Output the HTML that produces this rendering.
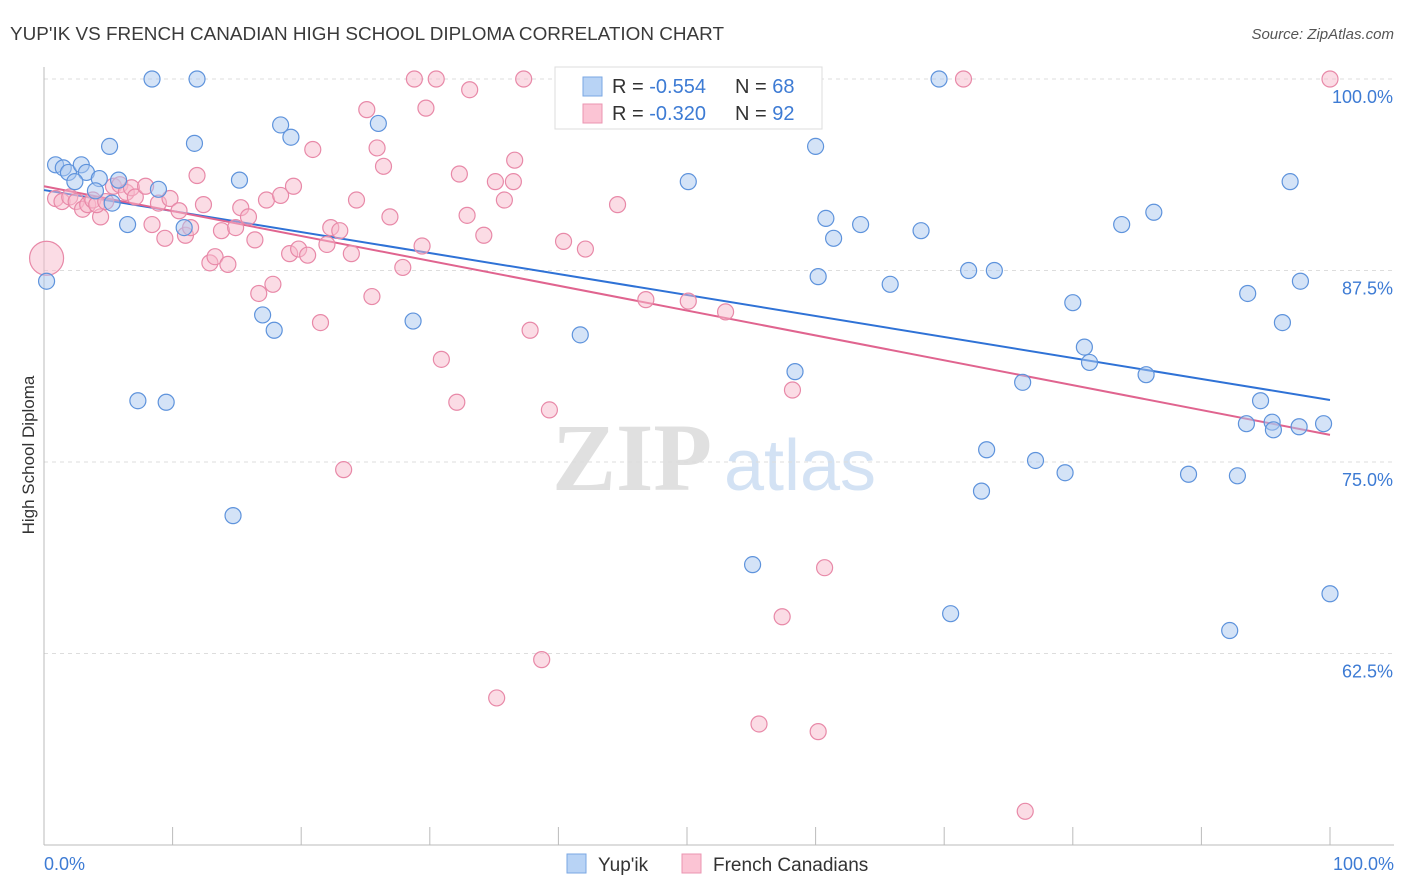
<!DOCTYPE html>
<html><head><meta charset="utf-8"><style>
body{margin:0;background:#fff;width:1406px;height:892px;overflow:hidden;font-family:"Liberation Sans",sans-serif}
svg{display:block}
</style></head><body>
<svg id="chart" width="1406" height="892">
<text x="10" y="40" font-size="18" fill="#3a3a3a" textLength="714" lengthAdjust="spacingAndGlyphs">YUP'IK VS FRENCH CANADIAN HIGH SCHOOL DIPLOMA CORRELATION CHART</text>
<text x="1394" y="39" font-size="15" fill="#555" font-style="italic" text-anchor="end">Source: ZipAtlas.com</text>
<text transform="translate(34,455) rotate(-90)" font-size="17" fill="#333" text-anchor="middle">High School Diploma</text>
<g>
<text x="632" y="490" font-size="96" fill="#e0e0e0" font-weight="bold" font-family="Liberation Serif,serif" text-anchor="middle">ZIP</text>
<text x="800" y="490" font-size="72" fill="#d3e2f4" text-anchor="middle">atlas</text>
</g>
<g id="grid"></g><g id="axes"></g><g id="lines"></g><g id="pts"></g>
<g>
<rect x="555" y="67" width="267" height="62" fill="#fff" stroke="#ddd"/>
<rect x="583" y="77" width="19" height="19" fill="#b8d3f5" stroke="#7aa7e3"/>
<rect x="583" y="104" width="19" height="19" fill="#fbc4d4" stroke="#eb94b1"/>
<text x="612" y="93" font-size="20" fill="#333">R = <tspan fill="#3d7bd4">-0.554</tspan></text>
<text x="735" y="93" font-size="20" fill="#333">N = <tspan fill="#3d7bd4">68</tspan></text>
<text x="612" y="120" font-size="20" fill="#333">R = <tspan fill="#3d7bd4">-0.320</tspan></text>
<text x="735" y="120" font-size="20" fill="#333">N = <tspan fill="#3d7bd4">92</tspan></text>
</g>
<g>
<rect x="567" y="854" width="19" height="19" fill="#b8d3f5" stroke="#7aa7e3"/>
<text x="598" y="871" font-size="19" fill="#333">Yup'ik</text>
<rect x="682" y="854" width="19" height="19" fill="#fbc4d4" stroke="#eb94b1"/>
<text x="713" y="871" font-size="19" fill="#333">French Canadians</text>
</g>
<text x="44" y="870" font-size="18" fill="#3d7bd4">0.0%</text>
<text x="1394" y="870" font-size="18" fill="#3d7bd4" text-anchor="end">100.0%</text>
</svg>
<script>
const yTicks=[100,87.5,75,62.5];
const yTickLabels=["100.0%","87.5%","75.0%","62.5%"];
const blueX=[0.9,1.5,1.9,2.9,3.3,2.4,4.3,5.8,4.0,5.1,5.3,6.5,7.3,8.4,9.5,8.9,10.9,11.7,11.9,14.7,15.2,17.0,17.9,18.4,19.2,26.0,28.7,41.7,50.1,55.1,58.4,60.0,60.2,60.8,61.4,63.5,65.8,68.2,69.6,70.5,71.9,72.9,73.3,73.9,76.1,77.1,79.4,80.0,80.9,81.3,83.8,85.7,86.3,89.0,92.2,92.8,93.5,93.6,94.6,95.5,95.6,96.3,96.9,97.6,97.7,99.5,100,0.2];
const blueY=[94.4,94.2,93.9,94.4,93.9,93.3,93.5,93.4,92.7,95.6,91.9,90.5,79.0,100,78.9,92.8,90.3,95.8,100,71.5,93.4,84.6,83.6,97.0,96.2,97.1,84.2,83.3,93.3,68.3,80.9,95.6,87.1,90.9,89.6,90.5,86.6,90.1,100,65.1,87.5,73.1,75.8,87.5,80.2,75.1,74.3,85.4,82.5,81.5,90.5,80.7,91.3,74.2,64.0,74.1,77.5,86.0,79.0,77.6,77.1,84.1,93.3,77.3,86.8,77.5,66.4,86.8];
const pinkX=[0.9,1.4,2.0,2.5,3.0,3.4,3.8,4.4,4.1,4.8,5.4,5.9,6.4,6.8,7.1,7.9,8.4,8.9,9.4,9.8,10.5,11.0,11.4,11.9,12.4,12.9,13.3,13.8,14.3,14.9,15.3,15.9,16.4,16.7,17.3,17.8,18.4,19.1,19.4,19.8,20.5,20.9,21.5,22.0,22.3,23.0,23.3,23.9,24.3,25.1,25.5,25.9,26.4,26.9,27.9,28.8,29.4,29.7,30.5,30.9,32.1,32.3,32.9,33.1,34.2,35.1,35.2,35.8,36.5,36.6,37.3,37.8,38.7,39.3,40.4,42.1,44.6,46.8,48.0,50.1,53.0,55.6,57.4,58.2,60.2,60.7,71.5,76.3,100];
const pinkY=[92.2,92.0,92.3,92.0,91.5,91.8,92.1,91.0,91.8,92.0,93.0,93.1,92.6,92.9,92.3,93.0,90.5,91.9,89.6,92.2,91.4,89.8,90.3,93.7,91.8,88.0,88.4,90.1,87.9,90.3,91.6,91.0,89.5,86.0,92.1,86.6,92.4,88.6,93.0,88.9,88.5,95.4,84.1,89.2,90.3,90.1,74.5,88.6,92.1,98.0,85.8,95.5,94.3,91.0,87.7,100,89.1,98.1,100,81.7,78.9,93.8,91.1,99.3,89.8,93.3,59.6,92.1,93.3,94.7,100,83.6,62.1,78.4,89.4,88.9,91.8,85.6,100,85.5,84.8,57.9,64.9,79.7,57.4,68.1,100,52.2,100];
const bigPinkX=[0.2], bigPinkY=[88.3];
const blueTrend=[92.75,79.05], pinkTrend=[93.0,76.77];
const NS="http://www.w3.org/2000/svg";
const X=v=>44+v*12.86, Y=v=>79+(100-v)*15.32;
function mk(t,a,p){const e=document.createElementNS(NS,t);for(const k in a)e.setAttribute(k,a[k]);p.appendChild(e);return e;}
const grid=document.getElementById('grid');
yTicks.forEach((t,i)=>{
 const l=mk('line',{x1:44,x2:1394,y1:Y(t),y2:Y(t),stroke:'#ddd','stroke-dasharray':'4,4'},grid);
 
 
 const tx=mk('text',{x:1393,y:Y(t)+24,'font-size':18,fill:'#3d7bd4','text-anchor':'end'},grid);
 tx.textContent=yTickLabels[i];
 
 
});
const ax=document.getElementById('axes');
const ya=mk('line',{x1:44,x2:44,y1:67,y2:845,stroke:'#bbb'},ax);


const xa=mk('line',{x1:44,x2:1394,y1:845,y2:845,stroke:'#bbb'},ax);


for(let i=0;i<=10;i++){const t=mk('line',{x1:X(i*10),x2:X(i*10),y1:827,y2:845,stroke:'#bbb'},ax);
 
 }
const pts=document.getElementById('pts');
function dots(xs,ys,r,fill,stroke,name){xs.forEach((x,i)=>{const c=mk('circle',{cx:X(x),cy:Y(ys[i]),r:r,fill:fill,'fill-opacity':0.5,stroke:stroke,'stroke-width':1.2},pts);
 
 });}
dots(bigPinkX,bigPinkY,17,'#f7b9cc','#e889a8','french-point');
dots(pinkX,pinkY,8,'#f7b9cc','#e889a8','french-point');
dots(blueX,blueY,8,'#aac8f0','#5e93dc','yupik-point');
const ln=document.getElementById('lines');
const b=mk('line',{x1:X(0),y1:Y(blueTrend[0]),x2:X(100),y2:Y(blueTrend[1]),stroke:'#2f72d6','stroke-width':2},ln);


const p=mk('line',{x1:X(0),y1:Y(pinkTrend[0]),x2:X(100),y2:Y(pinkTrend[1]),stroke:'#e0648f','stroke-width':2},ln);


</script>
</body></html>
